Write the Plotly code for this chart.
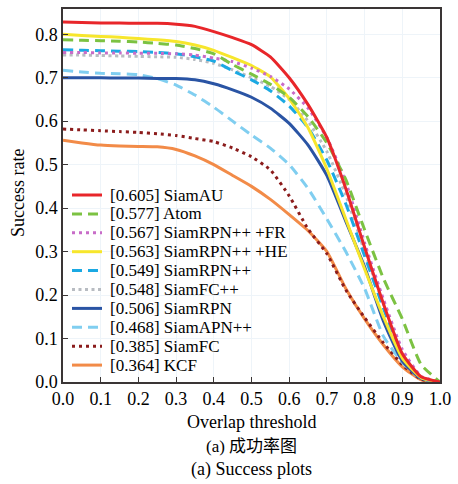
import plotly.graph_objects as go

thresholds = [round(i * 0.05, 2) for i in range(21)]

names = ["SiamAU", "Atom", "SiamRPN++ +FR", "SiamRPN++ +HE", "SiamRPN++",
         "SiamFC++", "SiamRPN", "SiamAPN++", "SiamFC", "KCF"]
auc = ["0.605", "0.577", "0.567", "0.563", "0.549", "0.548", "0.506", "0.468", "0.385", "0.364"]

siamau = [0.828, 0.827, 0.826, 0.826, 0.825, 0.825, 0.823, 0.818, 0.806, 0.792, 0.776,
          0.748, 0.700, 0.638, 0.562, 0.445, 0.310, 0.180, 0.065, 0.012, 0.0]
atom = [0.787, 0.786, 0.785, 0.784, 0.782, 0.779, 0.775, 0.767, 0.755, 0.730, 0.708,
        0.685, 0.655, 0.610, 0.550, 0.466, 0.350, 0.238, 0.145, 0.040, 0.0]
siamrpnpp_fr = [0.758, 0.758, 0.757, 0.757, 0.756, 0.756, 0.755, 0.752, 0.745, 0.737, 0.722,
                0.703, 0.674, 0.630, 0.562, 0.460, 0.320, 0.190, 0.075, 0.013, 0.0]
siamrpnpp_he = [0.800, 0.797, 0.795, 0.793, 0.790, 0.787, 0.783, 0.775, 0.763, 0.746, 0.728,
                0.702, 0.652, 0.585, 0.490, 0.375, 0.260, 0.150, 0.055, 0.010, 0.0]
siamrpnpp = [0.764, 0.763, 0.762, 0.761, 0.760, 0.758, 0.755, 0.748, 0.738, 0.716, 0.695,
             0.670, 0.635, 0.585, 0.510, 0.410, 0.290, 0.170, 0.060, 0.010, 0.0]
siamfcpp = [0.752, 0.752, 0.751, 0.750, 0.749, 0.748, 0.747, 0.742, 0.733, 0.718, 0.700,
            0.680, 0.650, 0.600, 0.530, 0.430, 0.300, 0.180, 0.065, 0.010, 0.0]
siamrpn = [0.700, 0.700, 0.700, 0.699, 0.699, 0.698, 0.698, 0.695, 0.686, 0.672, 0.655,
           0.630, 0.595, 0.545, 0.475, 0.370, 0.265, 0.140, 0.048, 0.008, 0.0]
siamapnpp = [0.717, 0.713, 0.710, 0.709, 0.707, 0.698, 0.683, 0.660, 0.632, 0.600, 0.568,
             0.538, 0.500, 0.445, 0.375, 0.300, 0.215, 0.105, 0.045, 0.008, 0.0]
siamfc = [0.582, 0.580, 0.578, 0.576, 0.574, 0.571, 0.567, 0.560, 0.553, 0.538, 0.518,
          0.488, 0.428, 0.352, 0.295, 0.212, 0.148, 0.090, 0.040, 0.006, 0.0]
kcf = [0.556, 0.550, 0.545, 0.543, 0.542, 0.541, 0.535, 0.520, 0.500, 0.475, 0.450,
       0.420, 0.385, 0.348, 0.300, 0.215, 0.145, 0.085, 0.035, 0.005, 0.0]

series = [siamau, atom, siamrpnpp_fr, siamrpnpp_he, siamrpnpp, siamfcpp, siamrpn, siamapnpp, siamfc, kcf]
colors = ["#e8262a", "#7cc242", "#c86cc8", "#f7e62c", "#1ba9e3", "#b8bcc2",
          "#2a54a4", "#80cef0", "#8b1c1c", "#f28b48"]
dashes = ["solid", "10px,6px", "3px,4px", "solid", "10px,6px", "3px,3.5px",
          "solid", "10px,6px", "3px,4px", "solid"]

FONT = "Liberation Serif, Times New Roman, serif"

fig = go.Figure()
for i in reversed(range(len(series))):
    fig.add_trace(go.Scatter(x=thresholds, y=series[i], mode="lines", name=names[i],
                             line=dict(color=colors[i], width=3, dash=dashes[i],
                                       shape="spline", smoothing=0.5),
                             showlegend=False))

L, R, T, B = 63, 18, 7, 102
W, H = 458, 484
pw, ph = W - L - R, H - T - B

def px_x(x):
    return (x - L) / pw

def px_y(y):
    return (H - B - y) / ph

shapes = []
annotations = []
for i in range(len(series)):
    yc = 194 + 19 * i
    shapes.append(dict(type="line", xref="paper", yref="paper",
                       x0=px_x(72), x1=px_x(102), y0=px_y(yc), y1=px_y(yc),
                       line=dict(color=colors[i], width=3, dash=dashes[i])))
    annotations.append(dict(xref="paper", yref="paper", x=px_x(108), y=px_y(yc),
                            xanchor="left", yanchor="middle", showarrow=False,
                            text=f"[{auc[i]}] {names[i]}",
                            font=dict(family=FONT, size=17, color="black")))

annotations += [
    dict(xref="paper", yref="paper", x=0.5, y=px_y(422), xanchor="center", yanchor="middle",
         showarrow=False, text="Overlap threshold", font=dict(family=FONT, size=18, color="black")),
    dict(xref="paper", yref="paper", x=px_x(18), y=px_y(192), xanchor="center", yanchor="middle",
         showarrow=False, text="Success rate", textangle=-90,
         font=dict(family=FONT, size=18, color="black")),
    dict(xref="paper", yref="paper", x=0.5, y=px_y(447), xanchor="center", yanchor="middle",
         showarrow=False, text="(a) 成功率图",
         font=dict(family="Liberation Serif, Noto Sans CJK SC", size=17, color="black")),
    dict(xref="paper", yref="paper", x=0.5, y=px_y(470), xanchor="center", yanchor="middle",
         showarrow=False, text="(a) Success plots", font=dict(family=FONT, size=18, color="black")),
]

axis_common = dict(showline=True, mirror=True, linecolor="#3a3535", linewidth=1.5,
                   ticks="inside", ticklen=5, tickwidth=1.2, tickcolor="#3a3535",
                   showgrid=True, gridcolor="#eef4f9", gridwidth=1, zeroline=False,
                   tickfont=dict(family=FONT, size=18, color="black"), tickformat=".1f")

fig.update_layout(
    width=W, height=H,
    margin=dict(l=L, r=R, t=T, b=B),
    paper_bgcolor="white", plot_bgcolor="white",
    xaxis=dict(range=[0, 1], tickvals=[round(i * 0.1, 1) for i in range(11)], **axis_common),
    yaxis=dict(range=[0, 0.858], tickvals=[round(i * 0.1, 1) for i in range(9)], **axis_common),
    shapes=shapes, annotations=annotations, showlegend=False,
)

fig.write_html("out.html")
